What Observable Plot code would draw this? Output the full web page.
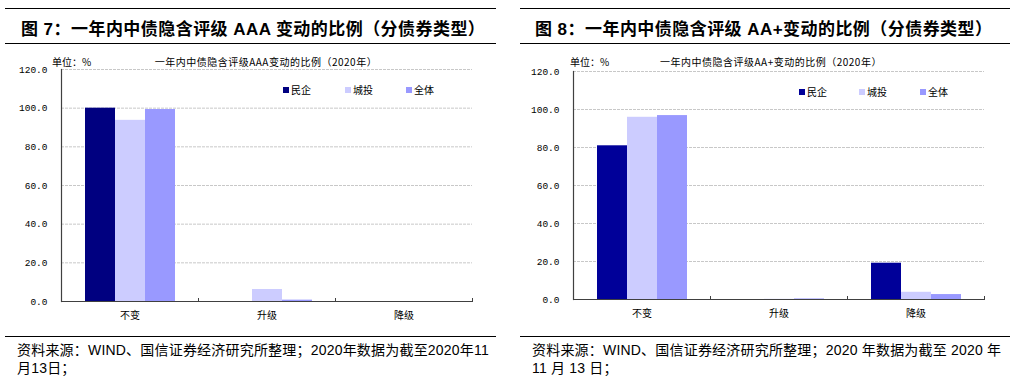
<!DOCTYPE html>
<html>
<head>
<meta charset="utf-8">
<script src="https://cdn.jsdelivr.net/npm/d3@7"></script>
<script src="https://cdn.jsdelivr.net/npm/@observablehq/plot@0.6"></script>
<style>
  html, body { margin: 0; padding: 0; background: #fff; }
  body { width: 1017px; height: 380px; position: relative; overflow: hidden;
         font-family: "Liberation Sans", "Noto Sans CJK SC", sans-serif; color: #000; }
  .panel { position: absolute; top: 0; width: 508px; height: 380px; }
  .rule { position: absolute; height: 0; border-top: 1.5px solid #000; }
  .title { position: absolute; top: 15px; font-size: 17px; font-weight: bold; white-space: nowrap;
           font-family: "Liberation Sans", "Noto Sans CJK SC", sans-serif; letter-spacing: 0.45px; }
  .unit, .sub { position: absolute; top: 54px; font-size: 10px; white-space: nowrap;
                font-family: "Noto Sans CJK SC", sans-serif; }
  .sub { transform: translateX(-50%); letter-spacing: 0.5px; }
  .chart { position: absolute; top: 62px; left: 0; }
  .legend { position: absolute; font-size: 10px; font-family: "Noto Sans CJK SC", sans-serif; white-space: nowrap; }
  .legend span.sw { display: inline-block; width: 6px; height: 6px; margin-right: 2px; vertical-align: 1px; }
  .foot { position: absolute; top: 341px; font-size: 14px; line-height: 18px; white-space: nowrap;
          font-family: "Liberation Sans", "Noto Sans CJK SC", sans-serif; letter-spacing: 0.2px; }
  .chart svg g[aria-label="y-axis tick label"] text { font-family: "Liberation Mono", monospace; font-size: 9.5px; }
  .chart svg g[aria-label="fx-axis tick label"] text { font-family: "Noto Sans CJK SC", sans-serif; font-size: 10px; }
</style>
</head>
<body>
<script>
// ---- data ----
const categories = ["不变", "升级", "降级"];
const seriesNames = ["民企", "城投", "全体"];
const yTicks = [0, 20, 40, 60, 80, 100, 120];

// 图7: AAA
const aaaPrivate = [100.0, 0.0, 0.0];
const aaaLgfv    = [93.7, 6.2, 0.0];
const aaaAll     = [99.3, 0.7, 0.0];

// 图8: AA+
const aapPrivate = [80.9, 0.0, 19.1];
const aapLgfv    = [95.9, 0.1, 3.8];
const aapAll     = [96.8, 0.3, 2.6];

const colorsAAA = ["#000080", "#CCCCFF", "#9999FF"];
const colorsAAP = ["#000099", "#CCCCFF", "#9999FF"];

function toRows(seriesArrays) {
  const rows = [];
  categories.forEach((c, i) => {
    seriesNames.forEach((s, j) => rows.push({category: c, series: s, value: seriesArrays[j][i]}));
  });
  return rows;
}

function makePanel(cfg) {
  const p = document.createElement("div");
  p.className = "panel";
  p.style.left = cfg.left + "px";
  p.innerHTML = `
    <div class="rule" style="top:8px;left:${cfg.ruleL}px;width:${cfg.ruleW}px"></div>
    <div class="title" style="left:${cfg.titleL}px">${cfg.title}</div>
    <div class="rule" style="top:43px;left:${cfg.ruleL}px;width:${cfg.ruleW}px"></div>
    <div class="unit" style="left:${cfg.unitL}px">单位：%</div>
    <div class="sub" style="left:${cfg.subC}px">${cfg.sub}</div>
    <div class="rule" style="top:336px;left:${cfg.ruleL}px;width:${cfg.ruleW}px"></div>
    <div class="foot" style="left:${cfg.footL}px">${cfg.foot.join("<br>")}</div>
  `;
  const chart = document.createElement("div");
  chart.className = "chart";
  const rows = toRows(cfg.series);
  const plotH = 265;
  const svg = Plot.plot({
    width: 500,
    height: plotH,
    marginLeft: cfg.mL,
    marginRight: cfg.mR,
    marginTop: cfg.mT,
    marginBottom: cfg.mB,
    style: {background: "transparent", color: "#000", fontSize: "10px"},
    fx: {domain: categories, padding: 0, label: null, axis: "bottom", tickSize: 0, tickPadding: 10},
    x: {domain: seriesNames, paddingInner: 0, paddingOuter: 0.74, axis: null},
    y: {domain: [0, 120], ticks: yTicks, tickFormat: d3.format(".1f"), label: null, tickSize: 0, tickPadding: 14},
    color: {domain: seriesNames, range: cfg.colors},
    marks: [
      Plot.gridY(yTicks.filter(d => d > 0), {stroke: "#c8c8c8", strokeOpacity: 1, strokeDasharray: "3,1"}),
      Plot.barY(rows, {fx: "category", x: "series", y: "value", fill: "series"}),
      Plot.ruleY([0], {stroke: "#404040", strokeWidth: 1.2}),
      Plot.frame({anchor: "left", facetAnchor: "left", stroke: "#404040", strokeWidth: 1.2}),
      Plot.frame({anchor: "right", stroke: "#404040", insetTop: plotH - cfg.mT - cfg.mB - 3})
    ]
  });
  chart.appendChild(svg);
  p.appendChild(chart);

  const lg = document.createElement("div");
  lg.className = "legend";
  lg.style.top = cfg.legTop + "px";
  lg.style.left = cfg.legX[0] + "px";
  lg.innerHTML = seriesNames.map((s, i) =>
    `<span style="position:absolute;left:${cfg.legX[i] - cfg.legX[0]}px;top:0"><span class="sw" style="background:${cfg.colors[i]}"></span>${s}</span>`
  ).join("");
  p.appendChild(lg);
  document.body.appendChild(p);
}

makePanel({
  left: 0, ruleL: 5, ruleW: 491, titleL: 21,
  title: "图 7：一年内中债隐含评级 AAA 变动的比例（分债券类型）",
  unitL: 52, subC: 266, sub: "一年内中债隐含评级AAA变动的比例（2020年）",
  footL: 17, foot: ["资料来源：WIND、国信证券经济研究所整理；2020年数据为截至2020年11", "月13日；"],
  series: [aaaPrivate, aaaLgfv, aaaAll], colors: colorsAAA,
  mL: 60, mR: 27, mT: 7, mB: 26,
  legTop: 82, legX: [283, 345, 406]
});

makePanel({
  left: 510, ruleL: 10, ruleW: 490, titleL: 25,
  title: "图 8：一年内中债隐含评级 AA+变动的比例（分债券类型）",
  unitL: 60, subC: 261, sub: "一年内中债隐含评级AA+变动的比例（2020年）",
  footL: 22, foot: ["资料来源：WIND、国信证券经济研究所整理；2020 年数据为截至 2020 年", "11 月 13 日；"],
  series: [aapPrivate, aapLgfv, aapAll], colors: colorsAAP,
  mL: 62, mR: 26, mT: 9, mB: 28,
  legTop: 84, legX: [289, 349, 410]
});
</script>
</body>
</html>
